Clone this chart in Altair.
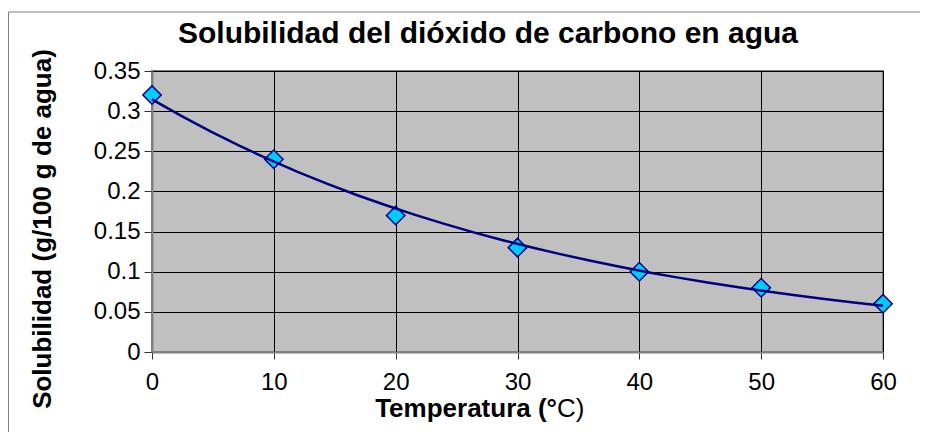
import altair as alt
import pandas as pd

# ---- data ----
temps = [0, 10, 20, 30, 40, 50, 60]
solubility = [0.32, 0.24, 0.17, 0.13, 0.10, 0.08, 0.06]
x_ticks = [0, 10, 20, 30, 40, 50, 60]
y_ticks = [0, 0.05, 0.1, 0.15, 0.2, 0.25, 0.3, 0.35]
title_text = ["Solubilidad del dióxido de carbono en agua"]
y_title = ["Solubilidad (g/100 g de agua)"]
x_title_bold = ["Temperatura (°"]
x_title_regular = ["C)"]

FONT = "Liberation Sans"
df = pd.DataFrame({"t": temps, "s": solubility})
one = pd.DataFrame({"a": [0]})

x_enc = alt.X(
    "t:Q",
    scale=alt.Scale(domain=[0, 60], nice=False, zero=False),
    axis=alt.Axis(values=x_ticks, format="d", title=None, tickSize=7,
                  labelPadding=11, labelFontSize=24, labelFlush=False,
                  labelOverlap=False),
)
y_enc = alt.Y(
    "s:Q",
    scale=alt.Scale(domain=[0, 0.35], nice=False),
    axis=alt.Axis(values=y_ticks, format="~g", title=None, tickSize=8,
                  labelPadding=4, labelFontSize=24, labelFlush=False,
                  labelOverlap=False),
)

points = alt.Chart(df).mark_point(
    shape="diamond", filled=True, size=340, fill="#00CCFF",
    stroke="#000080", strokeWidth=1.5, opacity=1,
).encode(x=x_enc, y=y_enc)

trend = alt.Chart(df).transform_regression(
    "t", "s", method="exp", extent=[0, 60]
).mark_line(color="#000080", strokeWidth=2.5).encode(x="t:Q", y="s:Q")

title = alt.Chart(pd.DataFrame({"label": title_text})).mark_text(
    font=FONT, fontSize=30, fontWeight="bold", color="black",
    align="center", baseline="alphabetic",
).encode(text="label:N", x=alt.value(336), y=alt.value(-28))

ytitle = alt.Chart(pd.DataFrame({"label": y_title})).mark_text(
    font=FONT, fontSize=26, fontWeight="bold", color="black",
    align="center", baseline="alphabetic", angle=270,
).encode(text="label:N", x=alt.value(-101), y=alt.value(158))

xtitle_b = alt.Chart(pd.DataFrame({"label": x_title_bold})).mark_text(
    font=FONT, fontSize=26, fontWeight="bold", color="black",
    align="right", baseline="alphabetic",
).encode(text="label:N", x=alt.value(405), y=alt.value(346))

xtitle_r = alt.Chart(pd.DataFrame({"label": x_title_regular})).mark_text(
    font=FONT, fontSize=26, fontWeight="normal", color="black",
    align="left", baseline="alphabetic",
).encode(text="label:N", x=alt.value(405), y=alt.value(346))

border_top = alt.Chart(one).mark_rule(color="#7F7F7F", strokeWidth=1).encode(
    x=alt.value(-143.5), x2=alt.value(790), y=alt.value(-59))
border_left = alt.Chart(one).mark_rule(color="#7F7F7F", strokeWidth=1).encode(
    x=alt.value(-143.5), y=alt.value(-59), y2=alt.value(380))

chart = alt.layer(
    points, trend, title, ytitle, xtitle_b, xtitle_r, border_top, border_left
).properties(
    width=731, height=281,
    autosize=alt.AutoSizeParams(type="none"),
    padding={"left": 144, "top": 63, "right": 37, "bottom": 80},
    background="white",
).configure_view(
    fill="#C0C0C0", stroke="#808080", strokeWidth=2,
).configure_axis(
    grid=True, gridColor="black", gridWidth=1, gridOpacity=1,
    domainColor="#808080", domainWidth=2,
    tickColor="#333333", tickWidth=1,
    labelFont=FONT, labelColor="black",
)

chart.save("out.html", embed_options={"renderer": "svg", "actions": False})
